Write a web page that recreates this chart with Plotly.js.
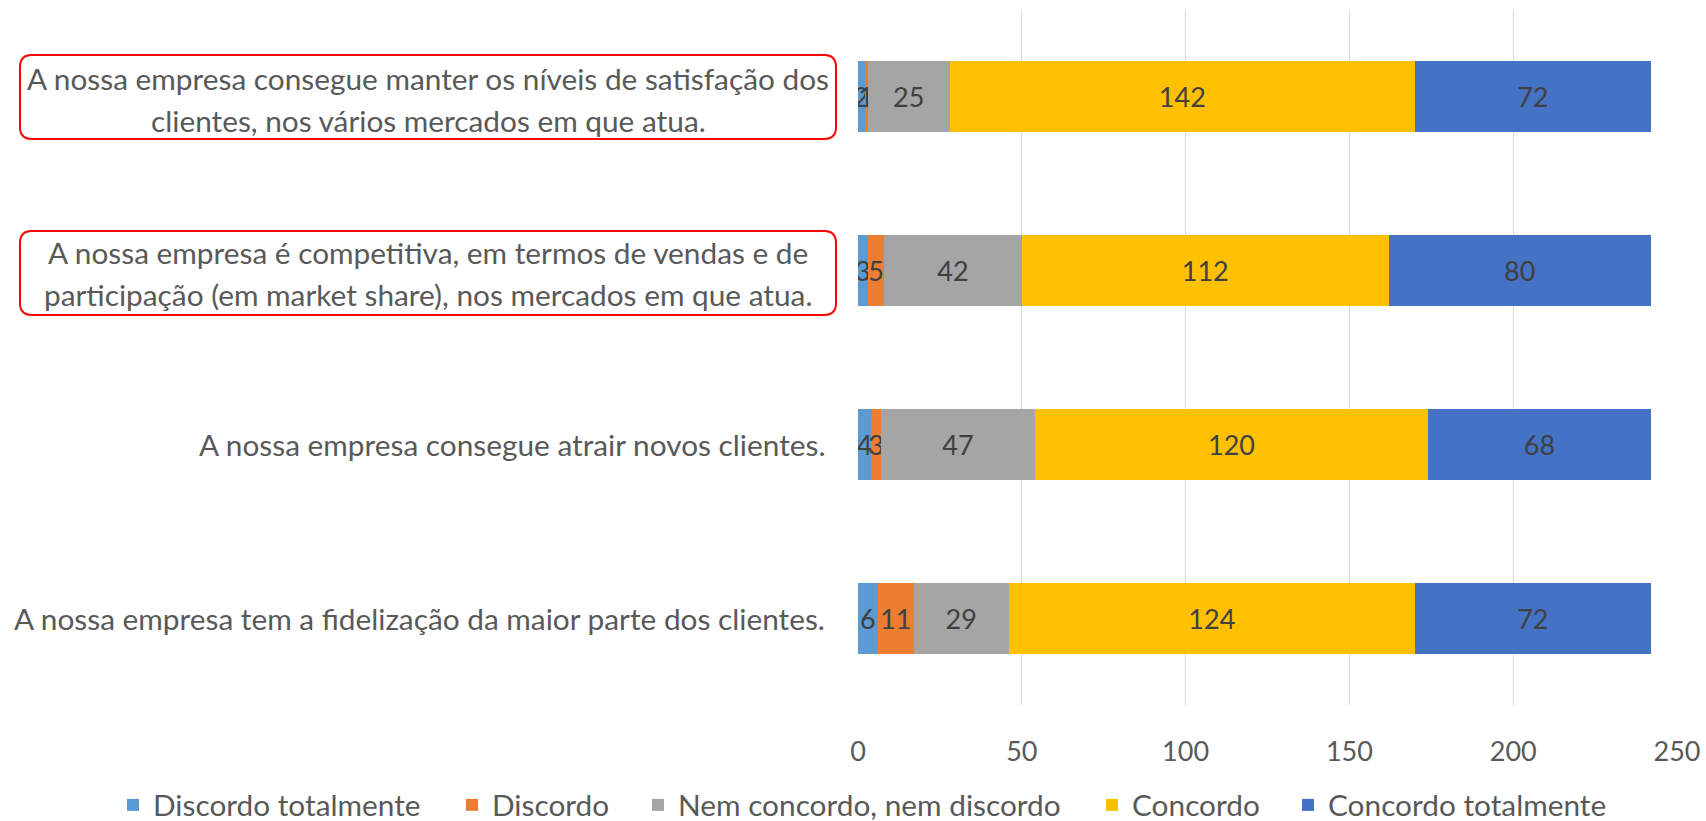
<!DOCTYPE html>
<html>
<head>
<meta charset="utf-8">
<script src="https://cdn.plot.ly/plotly-3.0.1.min.js"></script>
<style>html,body{margin:0;padding:0;background:#fff;}#chart{width:1706px;height:821px;}</style>
</head>
<body>
<div id="chart"></div>
<script>
// Categories (bottom to top); "<br>" marks a line break in the label
const categories = [
  "A nossa empresa tem a fidelização da maior parte dos clientes.",
  "A nossa empresa consegue atrair novos clientes.",
  "A nossa empresa é competitiva, em termos de vendas e de<br>participação (em market share), nos mercados em que atua.",
  "A nossa empresa consegue manter os níveis de satisfação dos<br>clientes, nos vários mercados em que atua."
];

const seriesNames = ["Discordo totalmente", "Discordo", "Nem concordo, nem discordo", "Concordo", "Concordo totalmente"];
const discordoTotalmente = [6, 4, 3, 2];
const discordo = [11, 3, 5, 1];
const nemNem = [29, 47, 42, 25];
const concordo = [124, 120, 112, 142];
const concordoTotalmente = [72, 68, 80, 72];
const seriesValues = [discordoTotalmente, discordo, nemNem, concordo, concordoTotalmente];
const seriesColors = ["#5B9BD5", "#ED7D31", "#A5A5A5", "#FFC000", "#4472C4"];

const xTicks = [0, 50, 100, 150, 200, 250];

const FONT = "Lato, 'Open Sans', sans-serif";
const FS_NUM = 27;   // numbers (data labels, ticks)
const FS_TXT = 29.8; // category labels, legend

// plot area geometry (pixels)
const W = 1706, H = 821;
const M = {l: 858, r: 29, t: 10, b: 116, autoexpand: false};
const PW = W - M.l - M.r, PH = H - M.t - M.b;
const px2x = p => (p - M.l) / PW;
const py2y = p => (H - M.b - p) / PH;

// left pixel positions of each legend entry (layout only)
const legendLeft = [113, 452, 638, 1092, 1288];
const legendIds = ["legend", "legend2", "legend3", "legend4", "legend5"];

const traces = seriesNames.map((name, i) => ({
  type: "bar",
  orientation: "h",
  name: name,
  y: categories,
  x: seriesValues[i],
  text: seriesValues[i].map(String),
  textposition: "inside",
  insidetextanchor: "middle",
  textfont: {family: FONT, size: FS_NUM, color: "#404040"},
  marker: {color: seriesColors[i], line: {width: 0}},
  legend: legendIds[i],
  hoverinfo: "x+name"
}));

const annotations = [];
const shapes = [];
const LINE = 42;
categories.forEach((c) => {
  const lines = c.split("<br>");
  const n = lines.length;
  lines.forEach((ln, li) => {
    annotations.push({
      xref: "paper", yref: "y",
      x: n > 1 ? px2x(428) : px2x(827),
      xanchor: n > 1 ? "center" : "right",
      y: c, yanchor: "middle",
      yshift: ((n - 1) / 2 - li) * LINE - (n > 1 ? 3 : 0),
      text: ln, showarrow: false,
      font: {family: FONT, size: FS_TXT, color: "#595959"}
    });
  });
});

function roundRect(x0, y0, x1, y1, r) {
  const X = px2x, Y = py2y;
  return "M" + X(x0 + r) + "," + Y(y0) +
    " L" + X(x1 - r) + "," + Y(y0) +
    " Q" + X(x1) + "," + Y(y0) + " " + X(x1) + "," + Y(y0 + r) +
    " L" + X(x1) + "," + Y(y1 - r) +
    " Q" + X(x1) + "," + Y(y1) + " " + X(x1 - r) + "," + Y(y1) +
    " L" + X(x0 + r) + "," + Y(y1) +
    " Q" + X(x0) + "," + Y(y1) + " " + X(x0) + "," + Y(y1 - r) +
    " L" + X(x0) + "," + Y(y0 + r) +
    " Q" + X(x0) + "," + Y(y0) + " " + X(x0 + r) + "," + Y(y0) + " Z";
}
shapes.push({type: "path", xref: "paper", yref: "paper", path: roundRect(20, 55, 836, 139, 12),
  line: {color: "#FF0000", width: 2}, fillcolor: "rgba(0,0,0,0)", layer: "above"});
shapes.push({type: "path", xref: "paper", yref: "paper", path: roundRect(20, 231, 836, 315, 12),
  line: {color: "#FF0000", width: 2}, fillcolor: "rgba(0,0,0,0)", layer: "above"});

const layout = {
  width: W, height: H,
  margin: M,
  paper_bgcolor: "#ffffff", plot_bgcolor: "#ffffff",
  barmode: "stack",
  bargap: 0.59,
  uniformtext: {mode: "show", minsize: FS_NUM},
  font: {family: FONT, size: FS_NUM, color: "#595959"},
  xaxis: {
    range: [0, 250],
    tickvals: xTicks,
    ticktext: xTicks.map(String),
    showgrid: true, gridcolor: "#D9D9D9", gridwidth: 1,
    zeroline: false, showline: false, ticks: "",
    ticklabelstandoff: 28,
    tickfont: {family: FONT, size: FS_NUM, color: "#595959"},
    automargin: false,
    fixedrange: true
  },
  yaxis: {
    type: "category",
    categoryorder: "array", categoryarray: categories,
    showticklabels: false, showgrid: false, zeroline: false, showline: false, ticks: "",
    automargin: false,
    fixedrange: true
  },
  showlegend: true,
  annotations: annotations,
  shapes: shapes
};
legendIds.forEach((id, i) => {
  layout[id] = {
    orientation: "h", xref: "paper", x: px2x(legendLeft[i]), xanchor: "left",
    yref: "paper", y: py2y(805), yanchor: "middle",
    font: {family: FONT, size: FS_TXT, color: "#595959"},
    bgcolor: "rgba(0,0,0,0)",
    itemclick: false
  };
});

Plotly.newPlot("chart", traces, layout, {displayModeBar: false, staticPlot: true});
</script>
</body>
</html>
